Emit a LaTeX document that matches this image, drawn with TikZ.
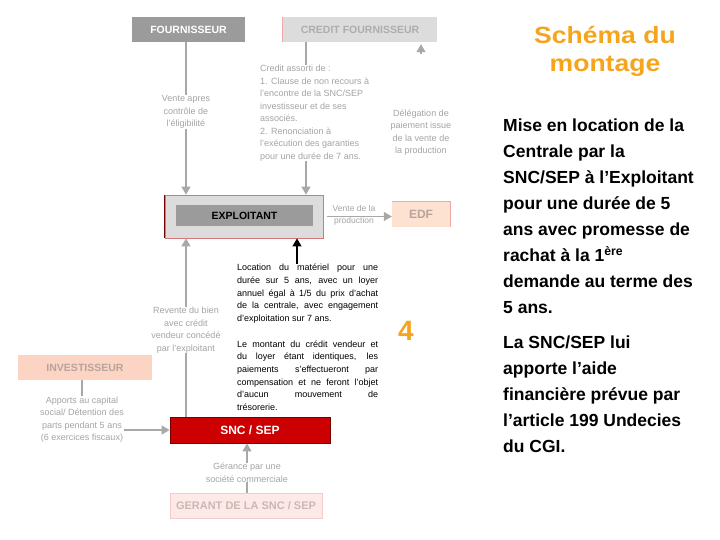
\documentclass[tikz,border=0pt]{standalone}
\usepackage{fontspec}
\setmainfont{Liberation Sans}
\usetikzlibrary{arrows.meta}
\definecolor{boxgray}{HTML}{9B9B9B}
\definecolor{boxlight}{HTML}{DCDCDC}
\definecolor{credtxt}{HTML}{ADADAD}
\definecolor{linegray}{HTML}{A8A8A8}
\definecolor{smallgray}{HTML}{A4A4A4}
\definecolor{peach}{HTML}{FDE2D2}
\definecolor{peachdk}{HTML}{FBD4C4}
\definecolor{peachtxt}{HTML}{B8A49A}
\definecolor{pinkline}{HTML}{EDA8A8}
\definecolor{sncred}{HTML}{CC0000}
\definecolor{sncborder}{HTML}{7A0000}
\definecolor{gerfill}{HTML}{FDE9E7}
\definecolor{gertxt}{HTML}{CDB7B3}
\definecolor{orangett}{HTML}{F5A41C}
\newcommand{\jline}[1]{\makebox[141pt][s]{#1}}
\newcommand{\wideline}[1]{\scalebox{1.13}[1]{#1}}
\tikzset{
  box/.style={inner sep=0pt, font=\fontsize{10.5}{12}\selectfont\bfseries},
  small/.style={inner sep=0pt, text=smallgray, font=\fontsize{9}{12.5}\selectfont, align=center},
  conn/.style={draw=linegray, line width=1.2pt},
  arr/.style={conn, -{Triangle[length=8pt,width=9pt]}},
  blackarr/.style={draw=black, line width=1.2pt, -{Triangle[length=8pt,width=9pt]}},
}
\begin{document}
\begin{tikzpicture}[x=1pt,y=-1pt]
\path[use as bounding box, fill=white] (0,0) rectangle (720,540);

% boxes
\node[box, fill=boxgray, text=white, minimum width=113pt, minimum height=25pt] (fourn) at (188.5,29.5) {FOURNISSEUR};
\node[box, fill=boxlight, text=credtxt, minimum width=154pt, minimum height=25pt] (cf) at (360,29.5) {CREDIT FOURNISSEUR};
\draw[pinkline, line width=1pt] (cf.north west) -- (cf.south west);

\node[inner sep=0pt, fill=boxlight, draw={rgb,255:red,215;green,120;blue,120}, line width=0.8pt, minimum width=158pt, minimum height=43pt] (exo) at (244,216.5) {};
\draw[sncborder, line width=1.6pt] (exo.north west) -- (exo.south west);
\node[box, fill=boxgray, text=black, minimum width=137pt, minimum height=21pt] (exoin) at (244.5,215.5) {EXPLOITANT};

\node[box, fill=peach, text=peachtxt, minimum width=58pt, minimum height=25pt, font=\fontsize{12}{14}\selectfont\bfseries] (edf) at (421,214.5) {EDF};
\draw[pinkline, line width=1pt] (edf.north west) -- (edf.north east) -- (edf.south east);

\node[box, fill=peachdk, text=peachtxt, minimum width=134pt, minimum height=25pt] (invest) at (85,367.5) {INVESTISSEUR};
\node[box, fill=sncred, draw=sncborder, line width=0.8pt, text=white, minimum width=160pt, minimum height=26pt, font=\fontsize{12}{14}\selectfont\bfseries] (snc) at (250,430) {SNC / SEP};
\node[box, fill=gerfill, draw=pinkline!60, line width=0.8pt, text=gertxt, minimum width=152pt, minimum height=25pt, font=\fontsize{11}{13}\selectfont\bfseries] (gerant) at (246,505.5) {GERANT DE LA SNC / SEP};

% small texts
\node[small] (vente) at (186,112) {Vente apres\\contrôle de\\l'éligibilité};
\node[small, anchor=north west, align=left] (credtext) at (260,65) {Credit assorti de :\\1. Clause de non recours à\\l'encontre de la SNC/SEP\\investisseur et de ses\\associés.\\2. Renonciation à\\l'exécution des garanties\\pour une durée de 7 ans.};
\node[small] (deleg) at (421,132.5) {Délégation de\\paiement issue\\de la vente de\\la production};
\node[small] (revente) at (186,330) {Revente du bien\\avec crédit\\vendeur concédé\\par l'exploitant};
\node[small] (apports) at (82,419.5) {Apports au capital\\social/ Détention des\\parts pendant 5 ans\\(6 exercices fiscaux)};
\node[small] (gerance) at (247,472.5) {Gérance par une\\société commerciale};

\node[inner sep=0pt, anchor=north west, align=left, font=\fontsize{9}{12.7}\selectfont] (loc) at (237,264) {%
\jline{Location du matériel pour une}\\
\jline{durée sur 5 ans, avec un loyer}\\
\jline{annuel égal à 1/5 du prix d'achat}\\
\jline{de la centrale, avec engagement}\\
d'exploitation sur 7 ans.\\[12.7pt]
\jline{Le montant du crédit vendeur et}\\
\jline{du loyer étant identiques, les}\\
\jline{paiements s'effectueront par}\\
\jline{compensation et ne feront l'objet}\\
\jline{d'aucun mouvement de}\\
trésorerie.};

\node[inner sep=0pt, text=orangett, font=\fontsize{28}{30}\selectfont\bfseries] (four) at (406,331) {4};

% right texts
\node[inner sep=0pt, text=orangett, align=center, font=\fontsize{23.5}{28}\selectfont\bfseries] (title) at (605,51) {\wideline{Schéma du}\\\wideline{montage}};
\node[inner sep=0pt, anchor=north west, align=left, font=\fontsize{17.5}{26}\selectfont\bfseries] (p1) at (503,119) {Mise en location de la\\Centrale par la\\SNC/SEP à l’Exploitant\\pour une durée de 5\\ans avec promesse de\\rachat à la 1\textsuperscript{ère}\\demande au terme des\\5 ans.};
\node[inner sep=0pt, anchor=north west, align=left, font=\fontsize{17.5}{26}\selectfont\bfseries] (p2) at (503,336) {La SNC/SEP lui\\apporte l’aide\\financière prévue par\\l’article 199 Undecies\\du CGI.};

% connectors
\coordinate (cx) at (306,0);
\coordinate (lx) at (297,0);
\coordinate (ay) at (0,430);
\coordinate (dtip) at (421,54);
\draw[conn] (fourn.south -| vente) -- (vente.north);
\draw[arr] (vente.south) -- (vente.south |- exo.north);
\draw[conn] (cf.south -| cx) -- (credtext.north -| cx);
\draw[arr] (credtext.south -| cx) -- (exo.north -| cx);
\draw[arr, shorten >=2pt] (dtip) -- (dtip |- cf.south);
\draw[arr, shorten <=4pt] (exo.east) -- (exo.east -| edf.west);
\draw[blackarr] (loc.north -| lx) -- (exo.south -| lx);
\draw[conn] (snc.north -| revente) -- (revente.south);
\draw[arr] (revente.north) -- (revente.north |- exo.south);
\draw[conn] (invest.south -| apports) -- (apports.north);
\draw[arr] (apports.east |- ay) -- (snc.west |- ay);
\draw[conn] (gerant.north -| gerance) -- (gerance.south);
\draw[arr] (gerance.north) -- (gerance.north |- snc.south);
\node[small, font=\fontsize{8.5}{12}\selectfont] (vprod) at (354,215) {Vente de la\\production};
\end{tikzpicture}
\end{document}
